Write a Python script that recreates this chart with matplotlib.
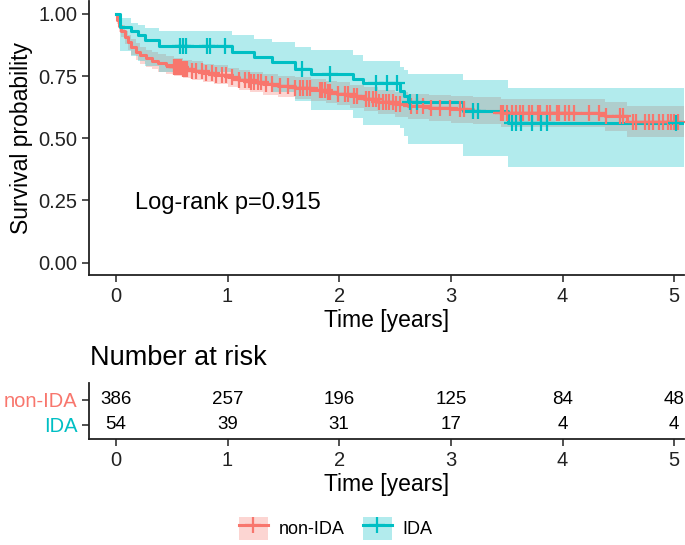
import numpy as np
import matplotlib
matplotlib.use("Agg")
import matplotlib.pyplot as plt
from matplotlib.patches import Patch
from matplotlib.lines import Line2D
from matplotlib.legend_handler import HandlerTuple

plt.rcParams['font.family'] = ['Liberation Sans', 'DejaVu Sans']

# ---- data ----
t_end = 5.09

# non-IDA KM curve (step starts) with 95% CI
red_t  = [0, 0.01, 0.03, 0.05, 0.08, 0.11, 0.14, 0.18, 0.22, 0.27, 0.32, 0.38, 0.45, 0.52,
          0.6, 0.68, 0.78, 0.88, 1.0, 1.1, 1.2, 1.32, 1.45, 1.6, 1.75, 1.88, 1.98, 2.1,
          2.22, 2.35, 2.5, 2.62, 2.8, 3.0, 3.2, 3.45, 4.38, 4.58]
red_s  = [1.0, 0.975, 0.95, 0.93, 0.905, 0.885, 0.865, 0.848, 0.835, 0.822, 0.812, 0.803,
          0.795, 0.787, 0.78, 0.772, 0.763, 0.755, 0.745, 0.735, 0.727, 0.718, 0.71, 0.702,
          0.695, 0.687, 0.678, 0.668, 0.657, 0.646, 0.636, 0.628, 0.622, 0.616, 0.61, 0.6,
          0.588, 0.565]
red_hi = [1.0, 0.99, 0.972, 0.955, 0.932, 0.915, 0.897, 0.882, 0.868, 0.856, 0.847, 0.838,
          0.83, 0.823, 0.816, 0.809, 0.8, 0.793, 0.784, 0.775, 0.768, 0.76, 0.752, 0.745,
          0.739, 0.732, 0.724, 0.715, 0.705, 0.695, 0.686, 0.679, 0.674, 0.669, 0.664, 0.656,
          0.647, 0.628]
red_lo = [1.0, 0.96, 0.928, 0.905, 0.878, 0.855, 0.833, 0.814, 0.8, 0.787, 0.777, 0.767,
          0.758, 0.75, 0.743, 0.734, 0.724, 0.716, 0.705, 0.694, 0.685, 0.675, 0.666, 0.658,
          0.65, 0.641, 0.632, 0.621, 0.609, 0.597, 0.586, 0.577, 0.57, 0.563, 0.556, 0.545,
          0.53, 0.506]
red_cens = [0.52, 0.54, 0.55, 0.56, 0.57, 0.58, 0.6, 0.62, 0.64, 0.68, 0.72, 0.77, 0.81, 0.86,
            0.9, 0.95, 0.99, 1.04, 1.1, 1.16, 1.19, 1.21, 1.24, 1.27, 1.3, 1.34, 1.4, 1.47,
            1.54, 1.6, 1.65, 1.68, 1.71, 1.74, 1.83, 1.85, 1.87, 1.9, 1.92, 1.99, 2.05, 2.08,
            2.13, 2.16, 2.24, 2.27, 2.3, 2.33, 2.36, 2.39, 2.42, 2.45, 2.48, 2.51, 2.54, 2.64,
            2.7, 2.75, 2.82, 2.9, 2.99, 3.08, 3.12, 3.45, 3.47, 3.5, 3.55, 3.58, 3.62, 3.65,
            3.7, 3.73, 3.78, 3.8, 3.86, 3.89, 3.95, 3.97, 4.02, 4.06, 4.1, 4.24, 4.33, 4.39,
            4.51, 4.54, 4.63, 4.66, 4.74, 4.77, 4.81, 4.86, 4.9, 4.94, 4.97, 5.0, 5.03]

# IDA KM curve
ida_t  = [0, 0.036, 0.14, 0.2, 0.26, 0.39, 1.04, 1.24, 1.40, 1.6, 1.75, 2.12, 2.21, 2.54,
          2.58, 2.62, 3.11, 3.51]
ida_s  = [1.0, 0.948, 0.93, 0.915, 0.895, 0.872, 0.848, 0.826, 0.805, 0.779, 0.759, 0.738,
          0.722, 0.688, 0.668, 0.645, 0.61, 0.56]
ida_hi = [1.0, 0.985, 0.965, 0.955, 0.945, 0.93, 0.915, 0.9, 0.885, 0.868, 0.853, 0.835,
          0.81, 0.787, 0.775, 0.76, 0.733, 0.701]
ida_lo = [1.0, 0.85, 0.83, 0.81, 0.79, 0.765, 0.74, 0.712, 0.685, 0.648, 0.614, 0.581,
          0.554, 0.54, 0.51, 0.478, 0.43, 0.384]
ida_cens = [0.57, 0.6, 0.63, 0.82, 0.84, 0.98, 1.67, 1.92, 2.33, 2.43, 2.52, 2.63, 2.7, 3.2,
            3.24, 3.55, 3.58, 3.63, 3.73, 3.81, 3.86, 5.02]

groups = ['non-IDA', 'IDA']
colors = ['#F8766D', '#00BFC4']
risk_times = [0, 1, 2, 3, 4, 5]
risk_nonida = [386, 257, 196, 125, 84, 48]
risk_ida = [54, 39, 31, 17, 4, 4]

# ---- figure ----
fig = plt.figure(figsize=(6.85, 5.45), dpi=100)
ax = fig.add_axes([0.13, 0.4954, 0.869, 0.502])
axr = fig.add_axes([0.13, 0.1945, 0.869, 0.1028])

curves = [(red_t, red_s, red_lo, red_hi, red_cens), (ida_t, ida_s, ida_lo, ida_hi, ida_cens)]
for (t, s, lo, hi, cens), col in zip(curves, colors):
    tt = np.append(t, t_end)
    ss = np.append(s, s[-1])
    ax.fill_between(tt, np.append(lo, lo[-1]), np.append(hi, hi[-1]), step='post',
                    color=col, alpha=0.3, lw=0)
    ax.step(tt, ss, where='post', color=col, lw=2.2)
for (t, s, lo, hi, cens), col in zip(curves, colors):
    idx = np.searchsorted(t, cens, side='right') - 1
    ax.plot(cens, np.asarray(s)[idx], ls='none', marker='+', color=col, ms=11, mew=1.6)

ax.set_xlim(-0.24, t_end)
ax.set_ylim(-0.05, 1.05)
ax.set_yticks([0, 0.25, 0.5, 0.75, 1.0])
ax.set_yticklabels(['0.00', '0.25', '0.50', '0.75', '1.00'])
ax.set_xticks(risk_times)
ax.set_xlabel('Time [years]', fontsize=16.5, labelpad=2)
ax.set_ylabel('Survival probability', fontsize=16.5, labelpad=4)
ax.text(0.17, 0.24, 'Log-rank p=0.915', fontsize=17, va='center', ha='left')

# risk table
y_pos = [2, 1]
for vals, yp in zip([risk_nonida, risk_ida], y_pos):
    for x, v in zip(risk_times, vals):
        axr.text(x, yp, str(v), ha='center', va='center', fontsize=13.5)
axr.set_xlim(-0.24, t_end)
axr.set_ylim(0.44, 2.68)
axr.set_yticks(y_pos)
axr.set_yticklabels(groups)
for lab, col in zip(axr.get_yticklabels(), colors):
    lab.set_color(col)
axr.set_xticks(risk_times)
axr.set_xlabel('Time [years]', fontsize=16.5, labelpad=2)
fig.text(0.131, 0.343, 'Number at risk', fontsize=19.5, va='center', ha='left')

for a in (ax, axr):
    for sp in ('top', 'right'):
        a.spines[sp].set_visible(False)
    for sp in ('left', 'bottom'):
        a.spines[sp].set_linewidth(1.3)
        a.spines[sp].set_color('#222222')
    a.tick_params(length=5, width=1.2, color='#333333', labelsize=14.5, labelcolor='#222222')
for lab, col in zip(axr.get_yticklabels(), colors):
    lab.set_color(col)

# legend
handles = [(Patch(facecolor=c, alpha=0.3, lw=0),
            Line2D([], [], color=c, lw=2.2, marker='+', ms=11, mew=1.6)) for c in colors]
fig.legend(handles, groups, handler_map={tuple: HandlerTuple(ndivide=1)},
           loc='center', bbox_to_anchor=(0.49, 0.031), ncol=2, frameon=False,
           fontsize=13, handlelength=1.6, handleheight=1.6, columnspacing=1.0,
           handletextpad=0.6)

fig.savefig('out.png', dpi=100)
